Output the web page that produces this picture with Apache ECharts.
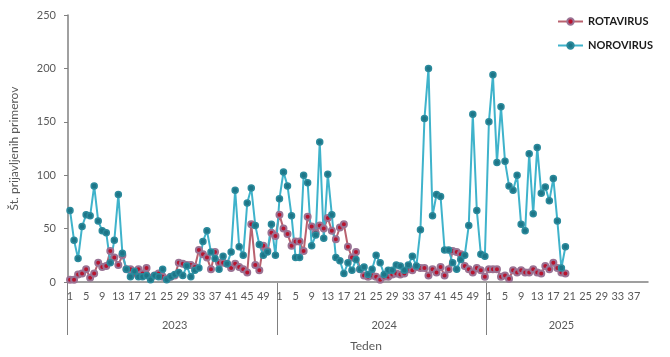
<!DOCTYPE html>
<html>
<head>
<meta charset="utf-8">
<script src="https://cdn.jsdelivr.net/npm/echarts@6/dist/echarts.min.js"></script>
<style>
html,body{margin:0;padding:0;background:#fff;}
#chart{width:670px;height:357px;}
</style>
</head>
<body>
<div id="chart"></div>
<script>
// Years and number of weeks shown per year
var years = ['2023', '2024', '2025'];
var weeksPerYear = [52, 52, 40];
var yearLabelWeek = [26, 26, 18]; // week index (0-based) within each year where year label sits

// Weekly reported cases (2023 wk1 ... 2025 wk20)
var rotavirus2023 = [2,2,7,8,12,4,8,18,14,15,29,23,16,25,12,12,8,12,8,13,4,6,8,5,3,5,6,18,17,16,16,14,30,26,23,12,28,18,18,17,13,17,14,12,9,54,16,11,34,29,46,43];
var rotavirus2024 = [63,50,45,34,38,38,29,61,52,46,53,50,60,48,40,51,54,33,23,28,12,6,5,6,5,2,5,5,7,8,7,8,12,11,14,13,13,6,12,9,14,6,12,29,28,26,15,12,9,13,11,5];
var rotavirus2025 = [12,12,12,5,6,3,11,9,11,9,9,12,9,8,15,12,18,13,9,8];

var norovirus2023 = [67,39,22,52,63,62,90,57,48,46,18,39,82,27,12,5,10,5,5,6,2,6,5,12,2,5,7,9,6,15,5,11,13,38,48,28,22,12,24,17,28,86,33,25,74,88,53,35,25,28,54,25];
var norovirus2024 = [78,103,90,62,23,23,100,93,34,44,131,41,101,63,23,20,8,18,11,21,12,14,7,12,25,18,7,11,11,16,15,11,16,24,15,49,153,200,62,82,80,30,30,18,12,21,25,53,157,67,26,24];
var norovirus2025 = [150,194,112,164,113,90,86,100,54,48,120,64,126,83,89,76,97,57,13,33];

var yTicks = {min: 0, max: 250, interval: 50};

// Build category table
var weekCats = [], yearCats = [];
years.forEach(function (y, k) {
  for (var w = 1; w <= weeksPerYear[k]; w++) {
    weekCats.push(String(w));
    yearCats.push(w - 1 === yearLabelWeek[k] ? y : '');
  }
});
var total = weekCats.length;
function pad(arr, len) {
  var out = arr.slice();
  while (out.length < len) out.push(null);
  return out;
}
var rotaData = pad(rotavirus2023.concat(rotavirus2024, rotavirus2025), total);
var noroData = pad(norovirus2023.concat(norovirus2024, norovirus2025), total);

var GL = 67, GR = 22, GT = 15, GB = 74, W = 670;
var plotW = W - GL - GR;
var yearLen = weeksPerYear[0];
// separator grid: a value axis in week units, stretched so ticks land on year boundaries
var sepW = plotW * (yearLen * 3) / total;

var FONT = 'Lato';
var chart = echarts.init(document.getElementById('chart'), null, {renderer: 'canvas'});
chart.setOption({
  animation: false,
  backgroundColor: '#ffffff',
  textStyle: {fontFamily: FONT},
  grid: [
    {left: GL, right: GR, top: GT, bottom: GB, containLabel: false},
    {left: GL, width: sepW, top: GT, bottom: GB, containLabel: false, outerBoundsMode: 'none'}
  ],
  legend: {
    orient: 'vertical',
    left: 552,
    top: 11,
    itemWidth: 25,
    itemHeight: 8,
    itemGap: 13,
    textStyle: {fontFamily: FONT, fontSize: 11, fontWeight: 'bold', color: '#1a1a1a'},
    data: ['ROTAVIRUS', 'NOROVIRUS']
  },
  xAxis: [{
    type: 'category',
    gridIndex: 0,
    data: weekCats,
    boundaryGap: true,
    axisLine: {show: true, lineStyle: {color: '#808080', width: 1.5}},
    axisTick: {show: false},
    axisLabel: {
      interval: 3,
      margin: 9,
      fontSize: 11,
      color: '#595959',
      fontFamily: FONT
    },
    splitLine: {show: false}
  }, {
    type: 'category',
    gridIndex: 0,
    data: yearCats,
    position: 'bottom',
    boundaryGap: true,
    axisLine: {show: false},
    axisTick: {show: false},
    axisLabel: {
      interval: function (i, v) { return v !== ''; },
      margin: 38,
      fontSize: 11,
      color: '#595959',
      fontFamily: FONT
    },
    name: 'Teden',
    nameLocation: 'middle',
    nameGap: 58,
    nameTextStyle: {fontSize: 12, color: '#595959', fontFamily: FONT, padding: [0, 0, 0, 16]}
  }, {
    type: 'value',
    gridIndex: 1,
    min: 0,
    max: yearLen * 3,
    interval: yearLen,
    position: 'bottom',
    axisLine: {show: false},
    axisTick: {show: true, length: 52, lineStyle: {color: '#808080', width: 1}},
    axisLabel: {show: false},
    splitLine: {show: false}
  }],
  yAxis: [{
    type: 'value',
    gridIndex: 0,
    min: yTicks.min,
    max: yTicks.max,
    interval: yTicks.interval,
    name: 'Št. prijavljenih primerov',
    nameLocation: 'middle',
    nameGap: 48,
    nameTextStyle: {fontSize: 12, color: '#595959', fontFamily: FONT},
    axisLine: {show: true, lineStyle: {color: '#808080', width: 1.5}},
    axisTick: {show: true, length: 4, lineStyle: {color: '#808080'}},
    axisLabel: {margin: 12, fontSize: 11, color: '#595959', fontFamily: FONT},
    splitLine: {show: false}
  }, {
    type: 'value',
    gridIndex: 1,
    show: false
  }],
  series: [{
    name: 'ROTAVIRUS',
    type: 'line',
    data: rotaData,
    xAxisIndex: 0,
    yAxisIndex: 0,
    symbol: 'circle',
    symbolSize: 6,
    showAllSymbol: true,
    connectNulls: false,
    lineStyle: {color: '#b9626f', width: 2},
    itemStyle: {color: '#b8142f', borderColor: '#9a7394', borderWidth: 2}
  }, {
    name: 'NOROVIRUS',
    type: 'line',
    data: noroData,
    xAxisIndex: 0,
    yAxisIndex: 0,
    symbol: 'circle',
    symbolSize: 6,
    showAllSymbol: true,
    connectNulls: false,
    lineStyle: {color: '#3fb3cb', width: 2},
    itemStyle: {color: '#1d7587', borderColor: '#2b8a9c', borderWidth: 1.5}
  }]
});
</script>
</body>
</html>
